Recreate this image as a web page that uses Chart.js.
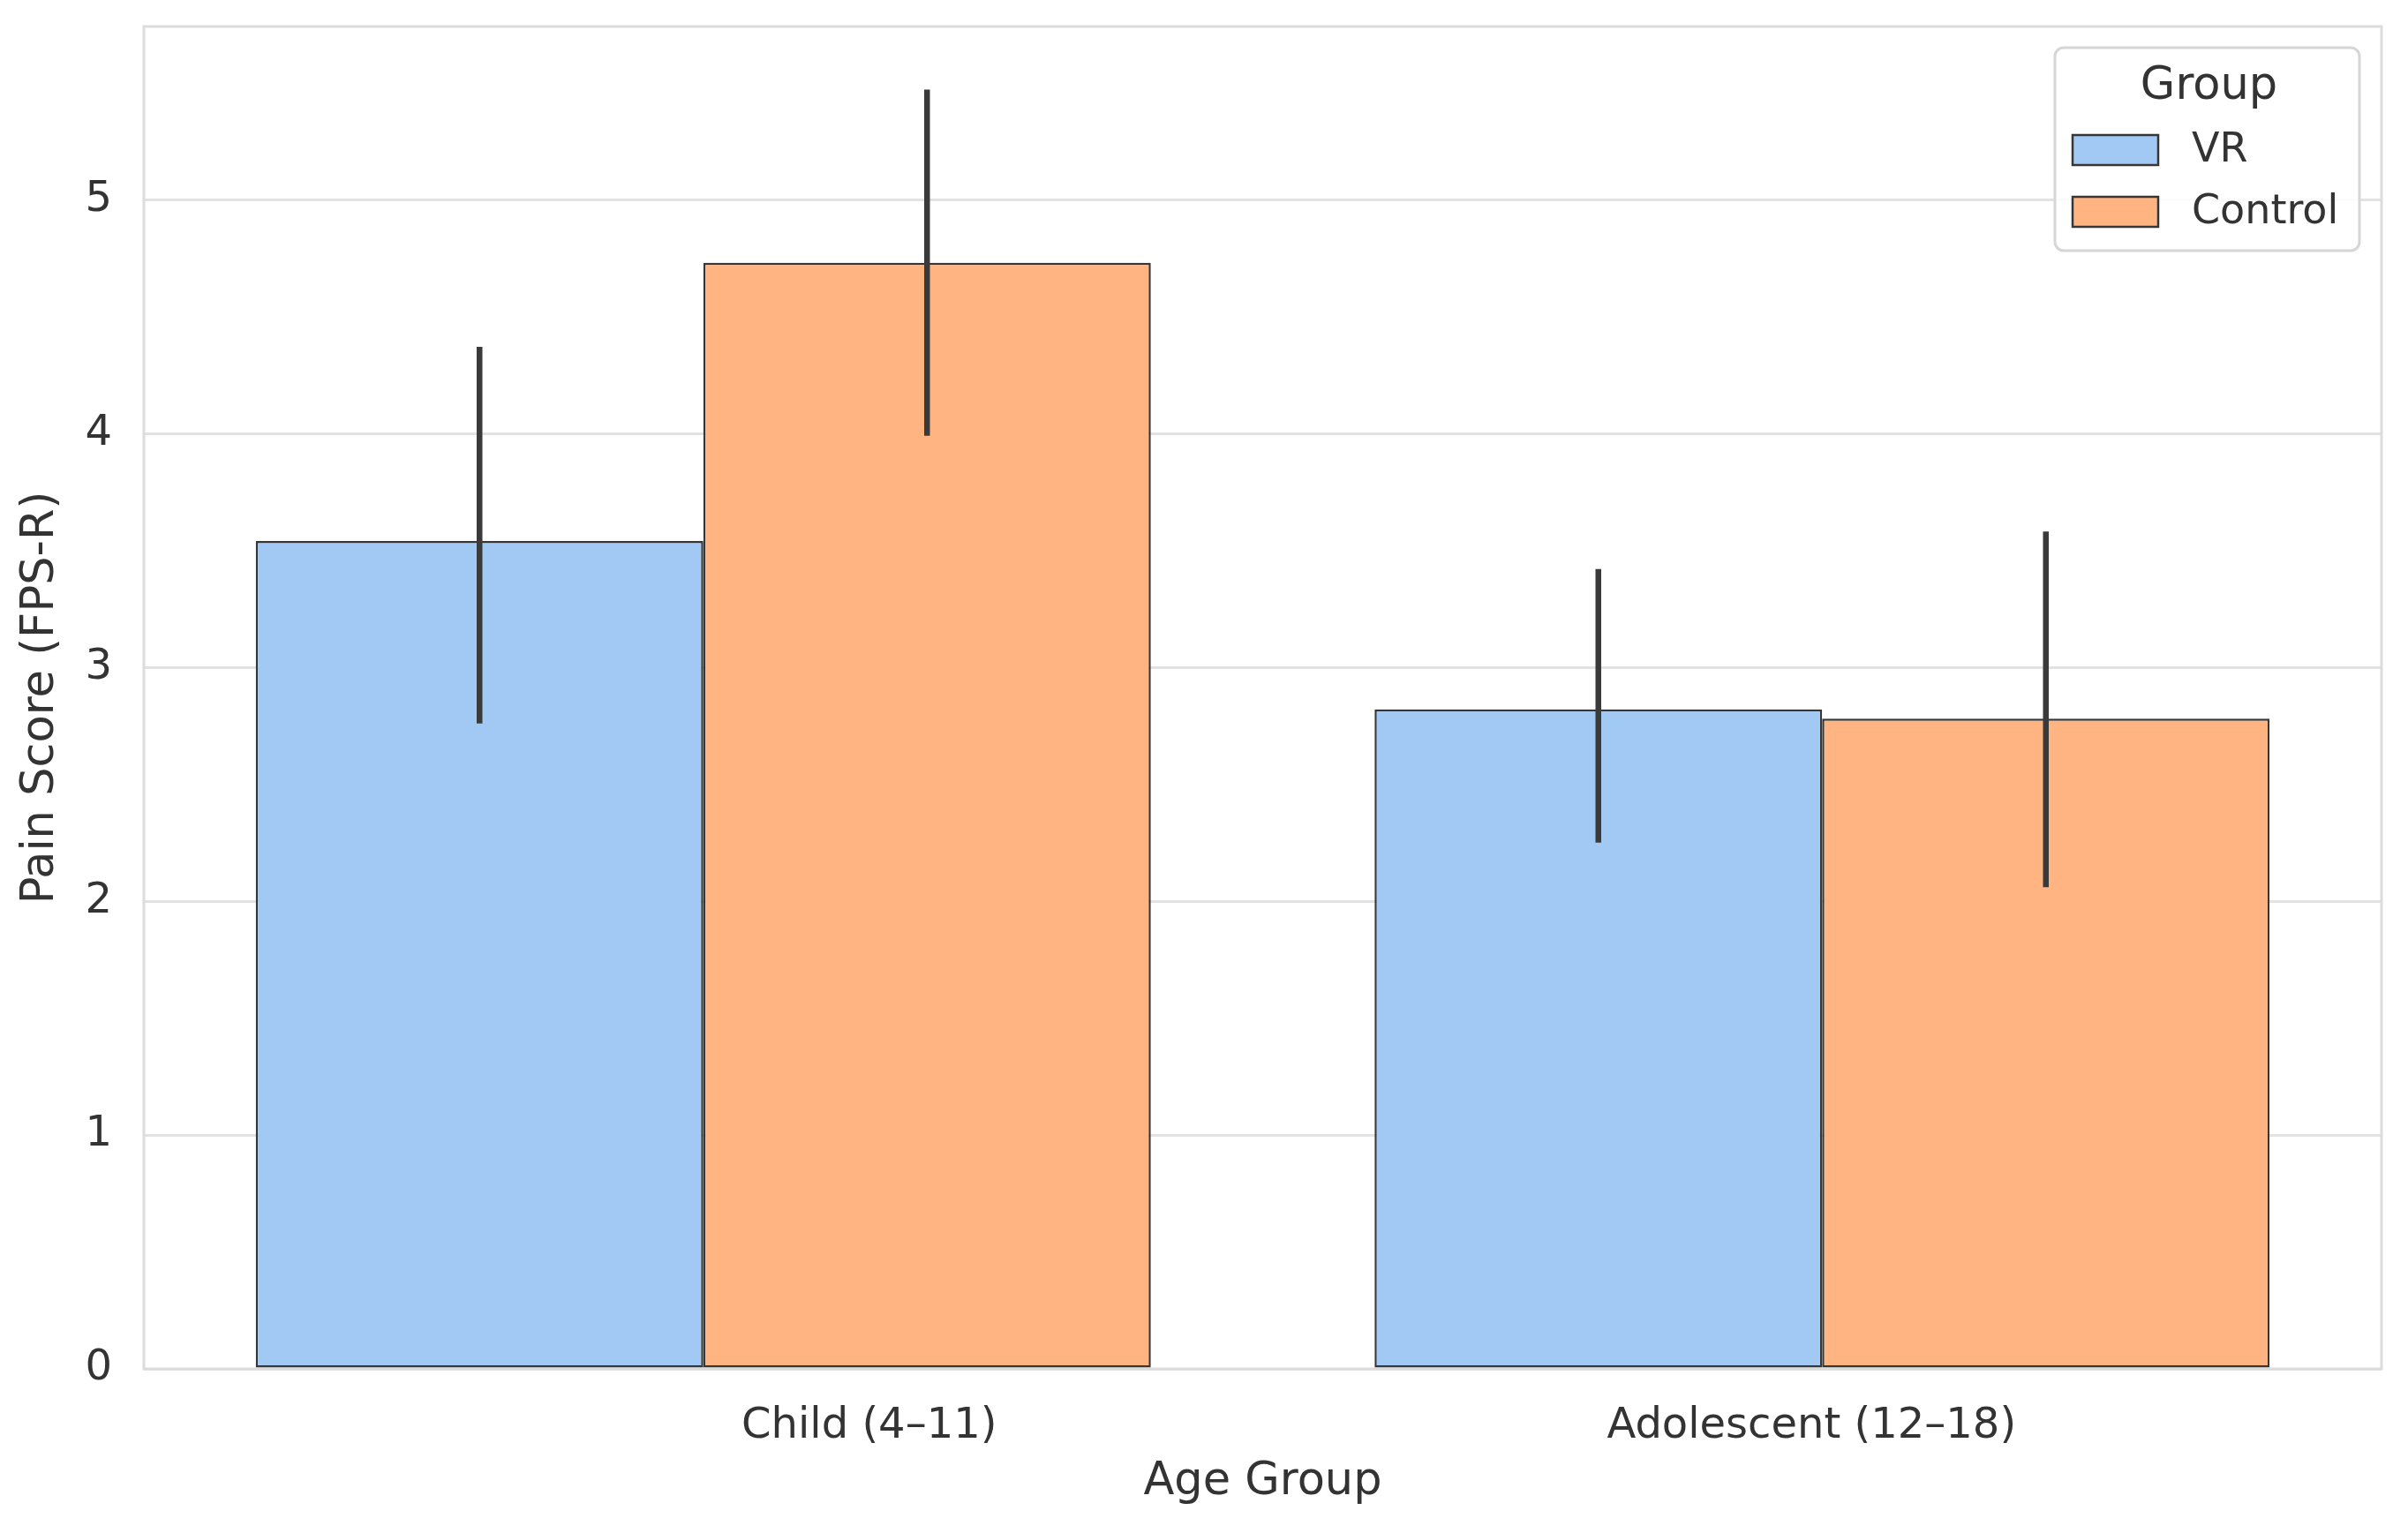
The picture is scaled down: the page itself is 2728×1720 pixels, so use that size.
<!DOCTYPE html>
<html>
<head>
<meta charset="utf-8">
<script src="https://cdn.jsdelivr.net/npm/chart.js@4.4.1/dist/chart.umd.min.js"></script>
<style>
  html, body { margin: 0; padding: 0; background: #fff; }
  #wrap { width: 2728px; height: 1720px; }
</style>
</head>
<body>
<div id="wrap"><canvas id="myChart" width="2728" height="1720"></canvas></div>
<script>
// values
const ageGroups = ['Child (4–11)', 'Adolescent (12–18)'];
const groups = ['VR', 'Control'];
const vrMeans = [3.54, 2.82];
const controlMeans = [4.73, 2.78];
const vrLow = [2.76, 2.25];
const vrHigh = [4.37, 3.42];
const controlLow = [3.99, 2.06];
const controlHigh = [5.47, 3.58];
const yTicks = [0, 1, 2, 3, 4, 5];
const yMax = 5.74;

const colors = ['#a1c9f4', '#ffb482'];
const edge = '#363636';
const textColor = '#333333';
const errLow = [vrLow, controlLow];
const errHigh = [vrHigh, controlHigh];
// in the picture the category labels are not centred under their groups
const labelShift = [188, -12];

Chart.defaults.font.family = "'DejaVu Sans', sans-serif";
Chart.defaults.color = textColor;

// light frame around the plot
const frame = {
  id: 'frame',
  beforeDatasetsDraw(chart) {
    const {ctx, chartArea: a} = chart;
    ctx.save();
    ctx.strokeStyle = '#dcdcdc';
    ctx.lineWidth = 3;
    ctx.strokeRect(a.left, a.top, a.right - a.left, a.bottom - a.top);
    ctx.restore();
  }
};

// error bars on top of each bar
const errorBars = {
  id: 'errorBars',
  afterDatasetsDraw(chart) {
    const ctx = chart.ctx;
    const y = chart.scales.y;
    ctx.save();
    ctx.strokeStyle = '#3a3a3a';
    ctx.lineWidth = 6.5;
    chart.data.datasets.forEach((ds, i) => {
      chart.getDatasetMeta(i).data.forEach((bar, j) => {
        ctx.beginPath();
        ctx.moveTo(bar.x, y.getPixelForValue(errLow[i][j]));
        ctx.lineTo(bar.x, y.getPixelForValue(errHigh[i][j]));
        ctx.stroke();
      });
    });
    ctx.restore();
  }
};

// category labels under the x axis
const xLabels = {
  id: 'xLabels',
  afterDraw(chart) {
    const {ctx, chartArea: a} = chart;
    const x = chart.scales.x;
    ctx.save();
    ctx.fillStyle = textColor;
    ctx.font = "48px 'DejaVu Sans'";
    ctx.textAlign = 'center';
    ctx.textBaseline = 'middle';
    chart.data.labels.forEach((lab, i) => {
      ctx.fillText(lab, x.getPixelForTick(i) + labelShift[i], a.bottom + 66);
    });
    ctx.restore();
  }
};

// legend box inside the plot, top right
const boxLegend = {
  id: 'boxLegend',
  afterDraw(chart) {
    const {ctx, chartArea: a} = chart;
    const w = 345, h = 230;
    const x0 = a.right - w - 25, y0 = a.top + 24;
    ctx.save();
    ctx.beginPath();
    ctx.roundRect(x0, y0, w, h, 10);
    ctx.fillStyle = 'rgba(255,255,255,0.85)';
    ctx.fill();
    ctx.strokeStyle = '#d6d6d6';
    ctx.lineWidth = 3;
    ctx.stroke();

    ctx.fillStyle = textColor;
    ctx.textAlign = 'center';
    ctx.textBaseline = 'middle';
    ctx.font = "51px 'DejaVu Sans'";
    ctx.fillText('Group', x0 + w / 2 + 2, y0 + 45);

    ctx.font = "46px 'DejaVu Sans'";
    ctx.textAlign = 'left';
    chart.data.datasets.forEach((ds, i) => {
      const cy = y0 + 116 + i * 70;
      ctx.fillStyle = ds.backgroundColor;
      ctx.fillRect(x0 + 20, cy - 17, 97, 34);
      ctx.strokeStyle = edge;
      ctx.lineWidth = 2.5;
      ctx.strokeRect(x0 + 20, cy - 17, 97, 34);
      ctx.fillStyle = textColor;
      ctx.fillText(ds.label, x0 + 155, cy + 1);
    });
    ctx.restore();
  }
};

const ctx = document.getElementById('myChart').getContext('2d');
const myChart = new Chart(ctx, {
  type: 'bar',
  data: {
    labels: ageGroups,
    datasets: [
      { label: groups[0], data: vrMeans, backgroundColor: colors[0] },
      { label: groups[1], data: controlMeans, backgroundColor: colors[1] }
    ]
  },
  options: {
    responsive: false,
    animation: false,
    devicePixelRatio: 1,
    layout: { padding: { left: 0, top: 30, right: 30, bottom: 0 } },
    datasets: {
      bar: {
        categoryPercentage: 0.8,
        barPercentage: 1.0,
        borderColor: edge,
        borderWidth: 2.5,
        borderSkipped: false
      }
    },
    plugins: {
      legend: { display: false },
      tooltip: { enabled: false }
    },
    scales: {
      x: {
        grid: { display: false, drawTicks: false },
        border: { display: false },
        ticks: { display: false },
        title: { display: true, text: 'Age Group', font: { size: 51 }, color: textColor, padding: { top: 0, bottom: 10 } },
        afterFit(scale) { scale.height = 169; scale.paddingLeft = 0; scale.paddingRight = 0; }
      },
      y: {
        min: 0,
        max: yMax,
        grid: { color: '#e2e2e2', lineWidth: 3, drawTicks: false },
        border: { display: false },
        ticks: { padding: 36, font: { size: 48 }, color: textColor },
        afterBuildTicks(scale) { scale.ticks = yTicks.map(v => ({ value: v })); },
        title: { display: true, text: 'Pain Score (FPS-R)', font: { size: 51 }, color: textColor, padding: { top: 16, bottom: 0 } },
        afterFit(scale) { scale.width = 163; scale.paddingTop = 0; scale.paddingBottom = 0; }
      }
    }
  },
  plugins: [frame, errorBars, xLabels, boxLegend]
});
</script>
</body>
</html>
